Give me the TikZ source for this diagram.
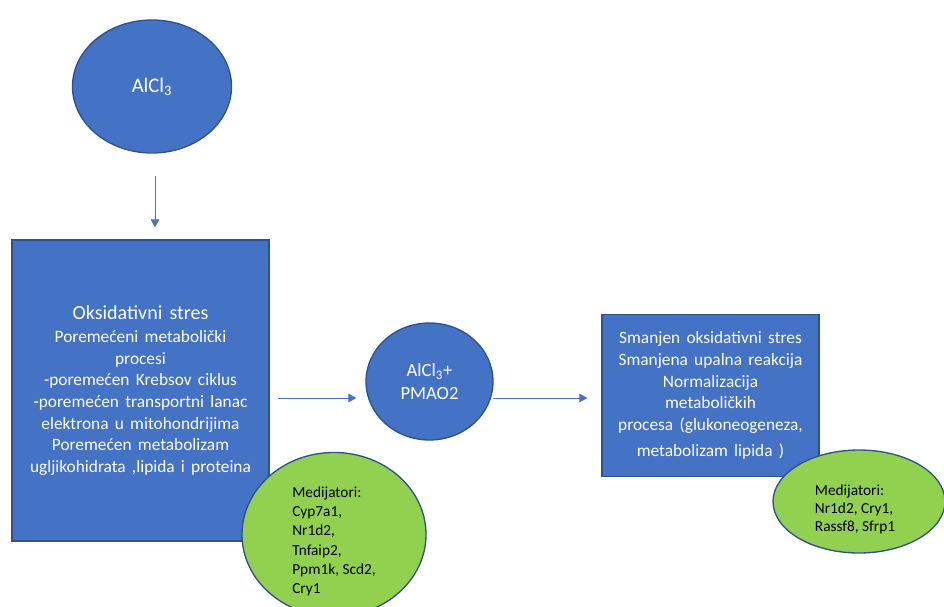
\documentclass[tikz,border=0pt]{standalone}
\usepackage{fontspec}
\setmainfont{Carlito}[WordSpace=1.6]
\newfontfamily\plainfont{Carlito}
\usetikzlibrary{arrows.meta, shapes.geometric}
\definecolor{offBlue}{HTML}{4472C4}
\definecolor{edgeBlue}{HTML}{2F528F}
\definecolor{medGreen}{HTML}{92D050}

\begin{document}
\begin{tikzpicture}[x=0.75pt, y=-0.75pt,
   blok/.style={rectangle, draw=edgeBlue, line width=1pt, fill=offBlue,
                text=white, align=center, inner sep=0pt,
                font=\fontsize{13}{16.3}\selectfont},
   krug/.style={ellipse, draw=edgeBlue, line width=1pt, fill=offBlue,
                text=white, align=center, inner sep=0pt},
   medij/.style={ellipse, draw=edgeBlue, line width=1pt, fill=medGreen,
                 text=black, align=left, inner sep=0pt,
                 font=\plainfont\fontsize{11.5}{14.5}\selectfont},
   tok/.style={-{Triangle[length=6pt, width=6.5pt]}, offBlue, line width=0.75pt}]
\useasboundingbox (0,0) rectangle (944,606);

\node[krug, minimum width=119.25pt, minimum height=99.75pt,
      font=\fontsize{15.5}{18}\selectfont] (alcl) at (152,86.5)
  {AlCl\textsubscript{3}};

\node[blok, minimum width=192.75pt, minimum height=225.75pt] (stres) at (140.5,390.5)
  {{\fontsize{15}{16}\selectfont Oksidativni stres}\\[1pt]
   Poremećeni metabolički\\
   procesi\\
   -poremećen Krebsov ciklus\\
   -poremećen transportni lanac\\
   elektrona u mitohondrijima\\
   Poremećen metabolizam\\
   ugljikohidrata ,lipida i proteina};

\node[krug, minimum width=95.25pt, minimum height=87.75pt,
      font=\fontsize{14}{17.5}\selectfont] (kombo) at (429.5,381.5)
  {AlCl\textsubscript{3}+\\PMAO2};

\node[blok, minimum width=162.75pt, minimum height=121.5pt] (ishod) at (710.5,395.5)
  {Smanjen oksidativni stres\\
   Smanjena upalna reakcija\\
   Normalizacija\\
   metaboličkih\\
   procesa (glukoneogeneza,\\[3pt]
   metabolizam lipida )};

\node[medij, minimum width=138pt, minimum height=104.25pt] (med1) at (334,534.5)
  {\raisebox{-5.25pt}[\height][\depth]{\begin{tabular}{@{}l@{}}
   Medijatori:\\Cyp7a1,\\Nr1d2,\\Tnfaip2,\\Ppm1k, Scd2,\\Cry1\end{tabular}}};

\node[medij, minimum width=129pt, minimum height=77.25pt,
      font=\plainfont\fontsize{11.5}{13.5}\selectfont] (med2) at (859,501.5)
  {\hspace*{-6pt}\raisebox{-6.4pt}[\height][\depth]{\begin{tabular}{@{}l@{}}
   Medijatori:\\Nr1d2, Cry1,\\Rassf8, Sfrp1\end{tabular}}};

\draw[tok] ([shift={(3,22)}]alcl.south) -- ([shift={(14.5,-12)}]stres.north);
\draw[tok] ([shift={(8,7.5)}]stres.east) -- ([shift={(-9,16.5)}]kombo.west);
\draw[tok] ([shift={(-1,16.5)}]kombo.east) -- ([shift={(-14,2.5)}]ishod.west);
\end{tikzpicture}
\end{document}
